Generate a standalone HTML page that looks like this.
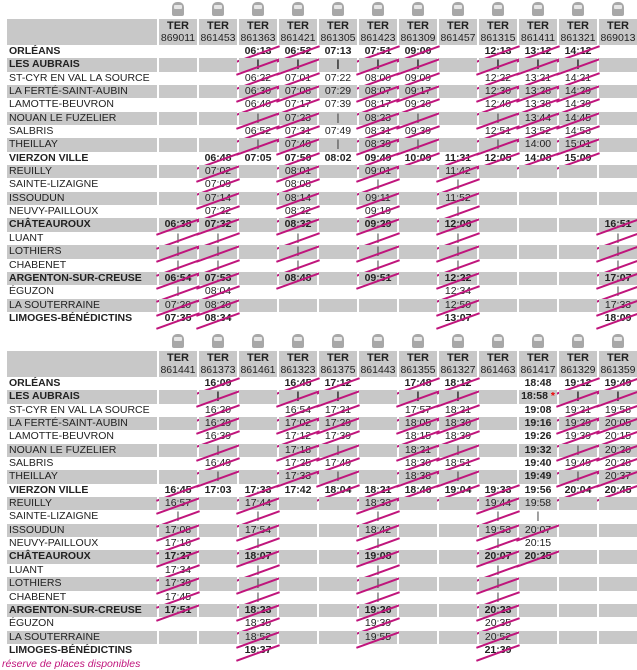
<!DOCTYPE html>
<html><head><meta charset="utf-8"><style>
*{margin:0;padding:0;box-sizing:border-box}
body{width:637px;height:660px;overflow:hidden;background:#fff;font-family:"Liberation Sans",Arial,sans-serif;font-size:10.5px;color:#222;position:relative}
.t{position:absolute;left:0;width:637px}
.ic{height:19px;display:flex;padding-left:157px}
.ic span{width:38px;margin-left:2px;position:relative}
.ic span::before{content:"";position:absolute;left:13px;top:2px;width:12px;height:14px;background:#a8a8a8;border-radius:5px 5px 2px 2px}
.ic span::after{content:"";position:absolute;left:15px;top:5px;width:8px;height:4px;background:#e6e6e6;border-radius:1px}
.hd{height:26px;display:flex}
.hd .l{width:150px;margin-left:7px;background:#c8c8c8}
.hd span{width:38px;margin-left:2px;background:#c8c8c8;text-align:center;line-height:12px;padding-top:1px;font-size:10.5px}
.hd span b{display:block;font-size:11px}
.r{height:13.35px;display:flex;line-height:13.35px}
.r .l{width:150px;margin-left:7px;padding-left:2px;white-space:nowrap}
.r span{width:38px;margin-left:2px;text-align:center;position:relative}
.g .l,.g span{background:#c8c8c8}
.b{font-weight:bold}
em{color:#e00;font-style:normal}
.x::after{content:"";position:absolute;left:-4px;top:8px;width:46px;height:2px;background:#c0157c;transform:rotate(-20deg)}
.ft{position:absolute;left:2px;top:658px;font-size:10.5px;color:#c0157c;font-style:italic}
</style></head><body>

<div class="t" style="top:0">
<div class="ic"><span></span><span></span><span></span><span></span><span></span><span></span><span></span><span></span><span></span><span></span><span></span><span></span></div>
<div class="hd"><div class="l"></div><span><b>TER</b>869011</span><span><b>TER</b>861453</span><span><b>TER</b>861363</span><span><b>TER</b>861421</span><span><b>TER</b>861305</span><span><b>TER</b>861423</span><span><b>TER</b>861309</span><span><b>TER</b>861457</span><span><b>TER</b>861315</span><span><b>TER</b>861411</span><span><b>TER</b>861321</span><span><b>TER</b>869013</span></div>
<div class="r b"><div class="l">ORLÉANS</div><span></span><span></span><span class="x">06:13</span><span class="x">06:52</span><span>07:13</span><span class="x">07:51</span><span class="x">09:00</span><span></span><span class="x">12:13</span><span class="x">13:12</span><span class="x">14:12</span><span></span></div>
<div class="r g b"><div class="l">LES AUBRAIS</div><span></span><span></span><span class="x">|</span><span class="x">|</span><span>|</span><span class="x">|</span><span class="x">|</span><span></span><span class="x">|</span><span class="x">|</span><span class="x">|</span><span></span></div>
<div class="r"><div class="l">ST-CYR EN VAL LA SOURCE</div><span></span><span></span><span class="x">06:22</span><span class="x">07:01</span><span>07:22</span><span class="x">08:00</span><span class="x">09:09</span><span></span><span class="x">12:22</span><span class="x">13:21</span><span class="x">14:21</span><span></span></div>
<div class="r g"><div class="l">LA FERTÉ-SAINT-AUBIN</div><span></span><span></span><span class="x">06:30</span><span class="x">07:08</span><span>07:29</span><span class="x">08:07</span><span class="x">09:17</span><span></span><span class="x">12:30</span><span class="x">13:28</span><span class="x">14:29</span><span></span></div>
<div class="r"><div class="l">LAMOTTE-BEUVRON</div><span></span><span></span><span class="x">06:40</span><span class="x">07:17</span><span>07:39</span><span class="x">08:17</span><span class="x">09:26</span><span></span><span class="x">12:40</span><span class="x">13:38</span><span class="x">14:39</span><span></span></div>
<div class="r g"><div class="l">NOUAN LE FUZELIER</div><span></span><span></span><span class="x">|</span><span class="x">07:23</span><span>|</span><span class="x">08:23</span><span class="x">|</span><span></span><span class="x">|</span><span class="x">13:44</span><span class="x">14:45</span><span></span></div>
<div class="r"><div class="l">SALBRIS</div><span></span><span></span><span class="x">06:52</span><span class="x">07:31</span><span>07:49</span><span class="x">08:31</span><span class="x">09:39</span><span></span><span class="x">12:51</span><span class="x">13:52</span><span class="x">14:53</span><span></span></div>
<div class="r g"><div class="l">THEILLAY</div><span></span><span></span><span class="x">|</span><span class="x">07:40</span><span>|</span><span class="x">08:39</span><span class="x">|</span><span></span><span class="x">|</span><span>14:00</span><span class="x">15:01</span><span></span></div>
<div class="r b"><div class="l">VIERZON VILLE</div><span></span><span class="x">06:48</span><span>07:05</span><span class="x">07:50</span><span>08:02</span><span class="x">09:49</span><span class="x">10:09</span><span class="x">11:31</span><span class="x">12:05</span><span class="x">14:08</span><span class="x">15:09</span><span></span></div>
<div class="r g"><div class="l">REUILLY</div><span></span><span class="x">07:02</span><span></span><span class="x">08:01</span><span></span><span class="x">09:01</span><span></span><span class="x">11:42</span><span></span><span></span><span></span><span></span></div>
<div class="r"><div class="l">SAINTE-LIZAIGNE</div><span></span><span class="x">07:09</span><span></span><span class="x">08:08</span><span></span><span class="x">|</span><span></span><span class="x">|</span><span></span><span></span><span></span><span></span></div>
<div class="r g"><div class="l">ISSOUDUN</div><span></span><span class="x">07:14</span><span></span><span class="x">08:14</span><span></span><span class="x">09:11</span><span></span><span class="x">11:52</span><span></span><span></span><span></span><span></span></div>
<div class="r"><div class="l">NEUVY-PAILLOUX</div><span></span><span class="x">07:22</span><span></span><span class="x">08:22</span><span></span><span class="x">09:19</span><span></span><span class="x">|</span><span></span><span></span><span></span><span></span></div>
<div class="r g b"><div class="l">CHÂTEAUROUX</div><span class="x">06:38</span><span class="x">07:32</span><span></span><span class="x">08:32</span><span></span><span class="x">09:29</span><span></span><span class="x">12:06</span><span></span><span></span><span></span><span class="x">16:51</span></div>
<div class="r"><div class="l">LUANT</div><span class="x">|</span><span class="x">|</span><span></span><span class="x">|</span><span></span><span class="x">|</span><span></span><span class="x">|</span><span></span><span></span><span></span><span class="x">|</span></div>
<div class="r g"><div class="l">LOTHIERS</div><span class="x">|</span><span class="x">|</span><span></span><span class="x">|</span><span></span><span class="x">|</span><span></span><span class="x">|</span><span></span><span></span><span></span><span class="x">|</span></div>
<div class="r"><div class="l">CHABENET</div><span class="x">|</span><span class="x">|</span><span></span><span class="x">|</span><span></span><span class="x">|</span><span></span><span class="x">|</span><span></span><span></span><span></span><span class="x">|</span></div>
<div class="r g b"><div class="l">ARGENTON-SUR-CREUSE</div><span class="x">06:54</span><span class="x">07:53</span><span></span><span class="x">08:48</span><span></span><span class="x">09:51</span><span></span><span class="x">12:22</span><span></span><span></span><span></span><span class="x">17:07</span></div>
<div class="r"><div class="l">ÉGUZON</div><span class="x">|</span><span class="x">08:04</span><span></span><span></span><span></span><span></span><span></span><span class="x">12:34</span><span></span><span></span><span></span><span class="x">|</span></div>
<div class="r g"><div class="l">LA SOUTERRAINE</div><span class="x">07:20</span><span class="x">08:20</span><span></span><span></span><span></span><span></span><span></span><span class="x">12:50</span><span></span><span></span><span></span><span class="x">17:33</span></div>
<div class="r b"><div class="l">LIMOGES-BÉNÉDICTINS</div><span class="x">07:35</span><span class="x">08:34</span><span></span><span></span><span></span><span></span><span></span><span class="x">13:07</span><span></span><span></span><span></span><span class="x">18:09</span></div>
</div>

<div class="t" style="top:332px">
<div class="ic"><span></span><span></span><span></span><span></span><span></span><span></span><span></span><span></span><span></span><span></span><span></span><span></span></div>
<div class="hd"><div class="l"></div><span><b>TER</b>861441</span><span><b>TER</b>861373</span><span><b>TER</b>861461</span><span><b>TER</b>861323</span><span><b>TER</b>861375</span><span><b>TER</b>861443</span><span><b>TER</b>861355</span><span><b>TER</b>861327</span><span><b>TER</b>861463</span><span><b>TER</b>861417</span><span><b>TER</b>861329</span><span><b>TER</b>861359</span></div>
<div class="r b"><div class="l">ORLÉANS</div><span></span><span class="x">16:09</span><span></span><span class="x">16:45</span><span class="x">17:12</span><span></span><span class="x">17:48</span><span class="x">18:12</span><span></span><span>18:48</span><span class="x">19:12</span><span class="x">19:49</span></div>
<div class="r g b"><div class="l">LES AUBRAIS</div><span></span><span class="x">|</span><span></span><span class="x">|</span><span class="x">|</span><span></span><span class="x">|</span><span class="x">|</span><span></span><span>18:58 <em>*</em></span><span class="x">|</span><span class="x">|</span></div>
<div class="r"><div class="l">ST-CYR EN VAL LA SOURCE</div><span></span><span class="x">16:20</span><span></span><span class="x">16:54</span><span class="x">17:21</span><span></span><span class="x">17:57</span><span class="x">18:21</span><span></span><span class="b">19:08</span><span class="x">19:21</span><span class="x">19:58</span></div>
<div class="r g"><div class="l">LA FERTÉ-SAINT-AUBIN</div><span></span><span class="x">16:29</span><span></span><span class="x">17:02</span><span class="x">17:29</span><span></span><span class="x">18:05</span><span class="x">18:30</span><span></span><span class="b">19:16</span><span class="x">19:29</span><span class="x">20:05</span></div>
<div class="r"><div class="l">LAMOTTE-BEUVRON</div><span></span><span class="x">16:39</span><span></span><span class="x">17:12</span><span class="x">17:39</span><span></span><span class="x">18:15</span><span class="x">18:39</span><span></span><span class="b">19:26</span><span class="x">19:39</span><span class="x">20:15</span></div>
<div class="r g"><div class="l">NOUAN LE FUZELIER</div><span></span><span class="x">|</span><span></span><span class="x">17:18</span><span class="x">|</span><span></span><span class="x">18:21</span><span class="x">|</span><span></span><span class="b">19:32</span><span class="x">|</span><span class="x">20:20</span></div>
<div class="r"><div class="l">SALBRIS</div><span></span><span class="x">16:49</span><span></span><span class="x">17:25</span><span class="x">17:49</span><span></span><span class="x">18:30</span><span class="x">18:51</span><span></span><span class="b">19:40</span><span class="x">19:49</span><span class="x">20:28</span></div>
<div class="r g"><div class="l">THEILLAY</div><span></span><span class="x">|</span><span></span><span class="x">17:33</span><span class="x">|</span><span></span><span class="x">18:38</span><span class="x">|</span><span></span><span class="b">19:49</span><span class="x">|</span><span class="x">20:37</span></div>
<div class="r b"><div class="l">VIERZON VILLE</div><span class="x">16:45</span><span>17:03</span><span class="x">17:33</span><span>17:42</span><span class="x">18:04</span><span class="x">18:21</span><span class="x">18:46</span><span class="x">19:04</span><span class="x">19:33</span><span>19:56</span><span class="x">20:04</span><span class="x">20:45</span></div>
<div class="r g"><div class="l">REUILLY</div><span class="x">16:57</span><span></span><span class="x">17:44</span><span></span><span></span><span class="x">18:33</span><span></span><span></span><span class="x">19:44</span><span>19:58</span><span></span><span></span></div>
<div class="r"><div class="l">SAINTE-LIZAIGNE</div><span class="x">|</span><span></span><span class="x">|</span><span></span><span></span><span class="x">|</span><span></span><span></span><span class="x">|</span><span>|</span><span></span><span></span></div>
<div class="r g"><div class="l">ISSOUDUN</div><span class="x">17:08</span><span></span><span class="x">17:54</span><span></span><span></span><span class="x">18:42</span><span></span><span></span><span class="x">19:53</span><span class="x">20:07</span><span></span><span></span></div>
<div class="r"><div class="l">NEUVY-PAILLOUX</div><span class="x">17:16</span><span></span><span class="x">|</span><span></span><span></span><span class="x">|</span><span></span><span></span><span class="x">|</span><span>20:15</span><span></span><span></span></div>
<div class="r g b"><div class="l">CHÂTEAUROUX</div><span class="x">17:27</span><span></span><span class="x">18:07</span><span></span><span></span><span class="x">19:08</span><span></span><span></span><span class="x">20:07</span><span class="x">20:25</span><span></span><span></span></div>
<div class="r"><div class="l">LUANT</div><span class="x">17:34</span><span></span><span class="x">|</span><span></span><span></span><span class="x">|</span><span></span><span></span><span class="x">|</span><span></span><span></span><span></span></div>
<div class="r g"><div class="l">LOTHIERS</div><span class="x">17:39</span><span></span><span class="x">|</span><span></span><span></span><span class="x">|</span><span></span><span></span><span class="x">|</span><span></span><span></span><span></span></div>
<div class="r"><div class="l">CHABENET</div><span class="x">17:45</span><span></span><span class="x">|</span><span></span><span></span><span class="x">|</span><span></span><span></span><span class="x">|</span><span></span><span></span><span></span></div>
<div class="r g b"><div class="l">ARGENTON-SUR-CREUSE</div><span class="x">17:51</span><span></span><span class="x">18:23</span><span></span><span></span><span class="x">19:26</span><span></span><span></span><span class="x">20:23</span><span></span><span></span><span></span></div>
<div class="r"><div class="l">ÉGUZON</div><span></span><span></span><span class="x">18:35</span><span></span><span></span><span class="x">19:39</span><span></span><span></span><span class="x">20:35</span><span></span><span></span><span></span></div>
<div class="r g"><div class="l">LA SOUTERRAINE</div><span></span><span></span><span class="x">18:52</span><span></span><span></span><span class="x">19:55</span><span></span><span></span><span class="x">20:52</span><span></span><span></span><span></span></div>
<div class="r b"><div class="l">LIMOGES-BÉNÉDICTINS</div><span></span><span></span><span class="x">19:37</span><span></span><span></span><span></span><span></span><span></span><span class="x">21:39</span><span></span><span></span><span></span></div>
</div>
<div class="ft">réserve de places disponibles</div>
</body></html>
